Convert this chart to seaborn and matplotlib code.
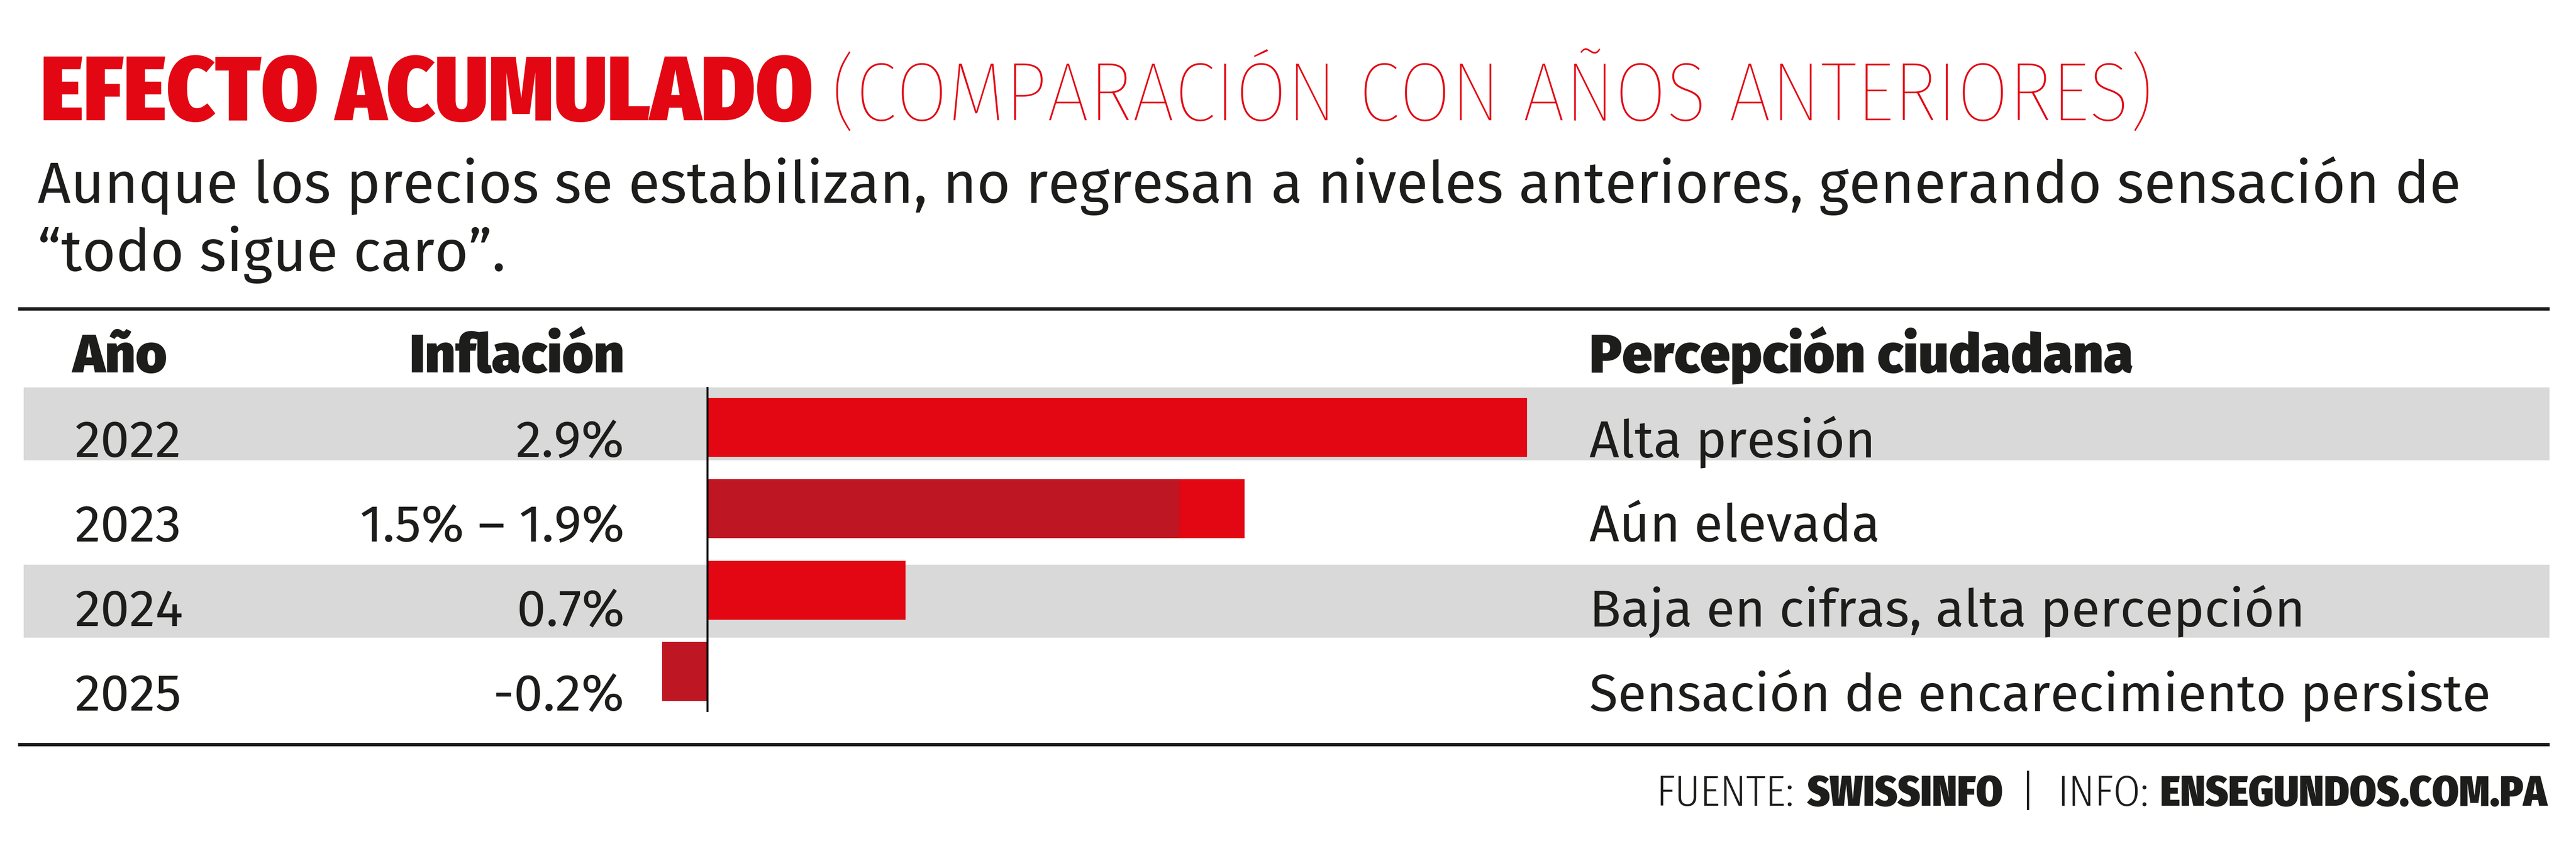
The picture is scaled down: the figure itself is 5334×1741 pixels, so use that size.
import matplotlib
matplotlib.use("Agg")
import matplotlib.pyplot as plt
import seaborn as sns
import pandas as pd
from matplotlib.font_manager import FontProperties
from matplotlib.textpath import TextPath
from matplotlib.patches import Rectangle

# datos
years = ["2022", "2023", "2024", "2025"]
inflacion = ["2.9%", "1.5% – 1.9%", "0.7%", "-0.2%"]
percepcion = ["Alta presión", "Aún elevada", "Baja en cifras, alta percepción",
              "Sensación de encarecimiento persiste"]
bar_value = [2.9, 1.9, 0.7, -0.16]   # largo de cada barra, tal como se dibuja
bar_dark = [0, 1.67, 0, -0.16]       # tramo oscuro (parte baja del rango 2023 y el valor negativo)

RED = "#E30613"
DARK = "#BE1622"
GRAY = "#D9D9D9"
INK = "#1D1D1B"

W, H, DPI = 5334, 1741, 100
BODY = "Fira Sans"
COND = "Fira Sans Condensed"

sns.set_style("white")
plt.rcParams["font.family"] = [BODY, "DejaVu Sans"]

fig = plt.figure(figsize=(W / DPI, H / DPI), dpi=DPI)
bg = fig.add_axes([0, 0, 1, 1])
bg.set_xlim(0, W)
bg.set_ylim(H, 0)
bg.axis("off")


def fsize(cap_px, family, weight):
    # font size (pt) so that capital letters are cap_px tall
    fp = FontProperties(family=[family, "DejaVu Sans"], weight=weight)
    h = TextPath((0, 0), "H", size=100, prop=fp).get_extents().height
    return cap_px * 72 / DPI / (h / 100)


def put(x, y, s, cap, family=BODY, weight=400, color=INK, ha="left"):
    return bg.text(x, y, s, fontsize=fsize(cap, family, weight), family=[family, "DejaVu Sans"],
                   weight=weight, color=color, ha=ha, va="baseline")


fig.canvas.draw()
r = fig.canvas.get_renderer()


def fit(group, ref, target):
    # scale a group of texts so that ref gets the target width in px
    k = target / ref.get_window_extent(r).width
    for t in group:
        t.set_fontsize(t.get_fontsize() * k)


# titulo
t1 = put(84, 249, "EFECTO ACUMULADO", 126, COND, 900, RED)
t2 = put(0, 249, "(COMPARACIÓN CON AÑOS ANTERIORES)", 119, COND, 250, RED)
s1 = put(78, 420, "Aunque los precios se estabilizan, no regresan a niveles anteriores, generando sensación de", 90)
s2 = put(78, 561, "“todo sigue caro”.", 90)
fit([t1], t1, 1600)
fit([t2], t2, 2737)
fit([s1, s2], s1, 5015)
t2.set_x(t1.get_window_extent(r).x1 + 37)

# reglas y bandas
for yy in [639, 1541]:
    bg.plot([37, 5279], [yy, yy], color=INK, lw=7 * 72 / DPI, solid_capstyle="butt")
for top in [802, 1169]:
    bg.add_patch(Rectangle((49, top), 5279 - 49, 151, color=GRAY, lw=0, zorder=0))

# encabezados
heads = [put(151, 771, "Año", 81, BODY, 900),
         put(1293, 771, "Inflación", 81, BODY, 900, ha="right"),
         put(3291, 771, "Percepción ciudadana", 81, BODY, 900)]
fit(heads, heads[2], 1126)

base = [946, 1121, 1296, 1471]
body = []
for i in range(len(years)):
    body.append(put(154, base[i], years[i], 81))
    body.append(put(1293, base[i], inflacion[i], 81, ha="right"))
    body.append(put(3291, base[i], percepcion[i], 81))
fit(body, body[-1], 1866)

# fuente
pieces = [("FUENTE:", 300), ("SWISSINFO", 900), ("|", 300), ("INFO:", 300), ("ENSEGUNDOS.COM.PA", 900)]
gaps = [26, 36, 44, 24]
texts = [put(0, 1668, s, 57, COND, w) for s, w in pieces]
total = sum(t.get_window_extent(r).width for t in texts) + sum(gaps)
k = (1844 - sum(gaps)) / (total - sum(gaps))
for t in texts:
    t.set_fontsize(t.get_fontsize() * k)
widths = [t.get_window_extent(r).width for t in texts]
x = 5274
for i in range(len(texts) - 1, -1, -1):
    x -= widths[i]
    texts[i].set_x(x)
    if i > 0:
        x -= gaps[i - 1]

# barras
ZERO, UNIT = 1465, 585.3          # px del cero y px por punto porcentual
ROW0, PITCH, BAR_H = 885, 168.33, 122

df = pd.DataFrame({"year": years, "valor": bar_value, "oscuro": bar_dark})
ax = fig.add_axes([0, 0, 1, 1], zorder=2)
sns.barplot(data=df, x="valor", y="year", order=years, color=RED, saturation=1,
            width=BAR_H / PITCH, linewidth=0, errorbar=None, orient="h", ax=ax)
sns.barplot(data=df, x="oscuro", y="year", order=years, color=DARK, saturation=1,
            width=BAR_H / PITCH, linewidth=0, errorbar=None, orient="h", ax=ax)
ax.vlines(0, -0.5, len(years) - 0.5, color="black", lw=4 * 72 / DPI)
ax.set_xlim(-ZERO / UNIT, (W - ZERO) / UNIT)
ax.set_ylim((H - ROW0) / PITCH, -ROW0 / PITCH)
ax.patch.set_alpha(0)
ax.axis("off")

fig.savefig("out.png", dpi=DPI)
